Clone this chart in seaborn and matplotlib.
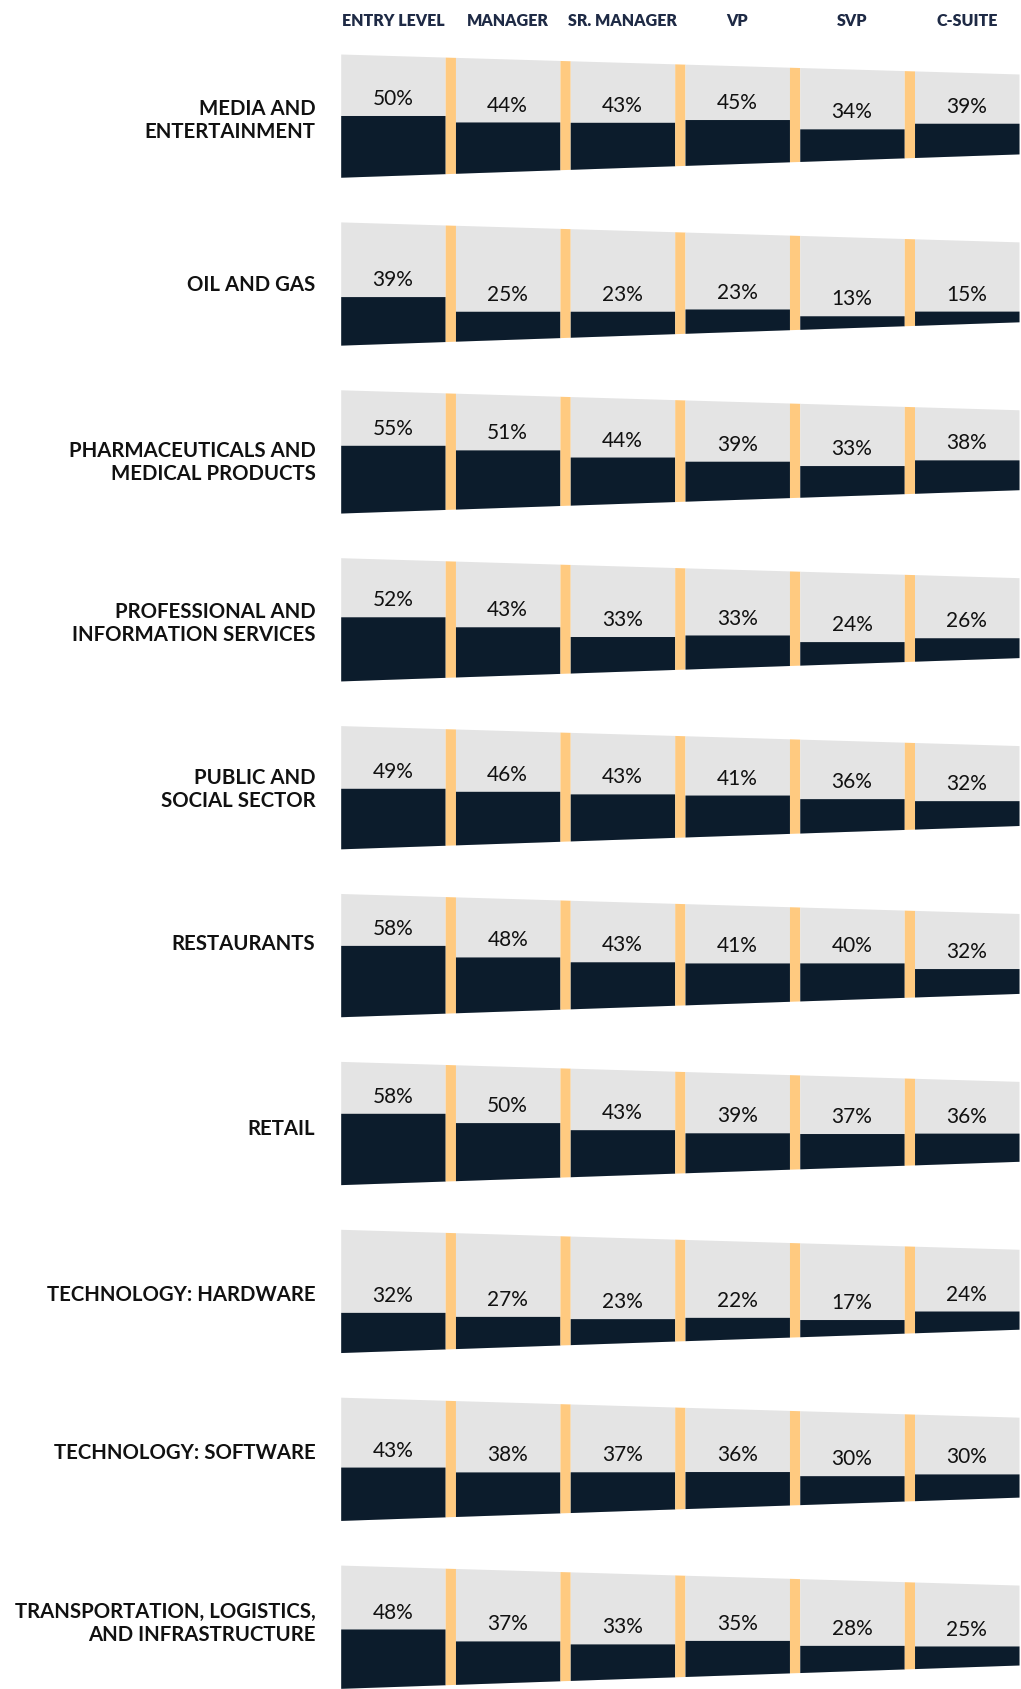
import numpy as np
import pandas as pd
import matplotlib
matplotlib.use("Agg")
import matplotlib.pyplot as plt
import seaborn as sns

# ---------------- data ----------------
levels = ["ENTRY LEVEL", "MANAGER", "SR. MANAGER", "VP", "SVP", "C-SUITE"]
industries = [
    "MEDIA AND\nENTERTAINMENT",
    "OIL AND GAS",
    "PHARMACEUTICALS AND\nMEDICAL PRODUCTS",
    "PROFESSIONAL AND\nINFORMATION SERVICES",
    "PUBLIC AND\nSOCIAL SECTOR",
    "RESTAURANTS",
    "RETAIL",
    "TECHNOLOGY: HARDWARE",
    "TECHNOLOGY: SOFTWARE",
    "TRANSPORTATION, LOGISTICS,\nAND INFRASTRUCTURE",
]
media = [50, 44, 43, 45, 34, 39]
oil_gas = [39, 25, 23, 23, 13, 15]
pharma = [55, 51, 44, 39, 33, 38]
professional = [52, 43, 33, 33, 24, 26]
public_social = [49, 46, 43, 41, 36, 32]
restaurants = [58, 48, 43, 41, 40, 32]
retail = [58, 50, 43, 39, 37, 36]
tech_hardware = [32, 27, 23, 22, 17, 24]
tech_software = [43, 38, 37, 36, 30, 30]
transport = [48, 37, 33, 35, 28, 25]

values = [media, oil_gas, pharma, professional, public_social,
          restaurants, retail, tech_hardware, tech_software, transport]

df = pd.DataFrame(
    [(ind, lev, v) for ind, row in zip(industries, values) for lev, v in zip(levels, row)],
    columns=["industry", "level", "pct"],
)

# ---------------- style ----------------
sns.set_theme(style="white")
plt.rcParams["font.family"] = ["Lato", "DejaVu Sans"]

GRAY = "#E4E4E4"
DARK = "#0C1C2C"
ORANGE = "#FFCA80"
HEAD = "#1E2A45"

COL_W = 1.0
GAP = 0.0985
N = len(levels)
TOTAL_W = N * COL_W + (N - 1) * GAP
H_LEFT = 0.734      # panel height at left edge (panel pitch = 1)
TOP_DROP = 0.119    # top edge drops towards right
BOT_RISE = 0.139    # bottom edge rises towards right
# vertical position of each industry label, relative to its panel top
LABEL_OFFSETS = [0.390, 0.368, 0.426, 0.388, 0.375, 0.292, 0.398, 0.385, 0.327, 0.343]


def top_edge(i, x):
    return i + TOP_DROP * np.asarray(x) / TOTAL_W


def bot_edge(i, x):
    return i + H_LEFT - BOT_RISE * np.asarray(x) / TOTAL_W


fig = plt.figure(figsize=(10.21, 16.90), dpi=100)
ax = fig.add_axes([340.7 / 1021, 0, 678.3 / 1021, 1])
ax.set_xlim(0, TOTAL_W)
ax.set_ylim(9.738, -0.3276)
ax.axis("off")

for i, ind in enumerate(industries):
    sub = df[df["industry"] == ind]
    for j, lev in enumerate(levels):
        pct = float(sub.loc[sub["level"] == lev, "pct"].iloc[0])
        x0 = j * (COL_W + GAP)
        x1 = x0 + COL_W
        xs = np.linspace(x0, x1, 20)
        # gray background
        ax.fill_between(xs, top_edge(i, xs), bot_edge(i, xs), color=GRAY, lw=0)
        # dark fill: flat top
        xc = (x0 + x1) / 2
        hc = bot_edge(i, xc) - top_edge(i, xc)
        ytop = bot_edge(i, xc) - pct / 100 * hc
        ax.fill_between(xs, np.full_like(xs, ytop), bot_edge(i, xs), color=DARK, lw=0)
        ax.text(xc, ytop - 0.104, f"{pct:.0f}%", ha="center", va="center",
                fontsize=15, color="#111111")
        # orange separator
        if j < N - 1:
            gx = np.linspace(x1, x1 + GAP, 5)
            ax.fill_between(gx, top_edge(i, gx), bot_edge(i, gx), color=ORANGE, lw=0)
    # industry label
    ax.text(-0.242, i + LABEL_OFFSETS[i], ind, ha="right", va="center",
            multialignment="right", fontsize=14.7, fontweight="bold",
            color="#111111", linespacing=1.2)

# column headers
for j, lev in enumerate(levels):
    xc = j * (COL_W + GAP) + COL_W / 2
    ax.text(xc, -0.2055, lev, ha="center", va="center", fontsize=11.5,
            fontweight="heavy", color=HEAD)

fig.savefig("out.png", dpi=100)
